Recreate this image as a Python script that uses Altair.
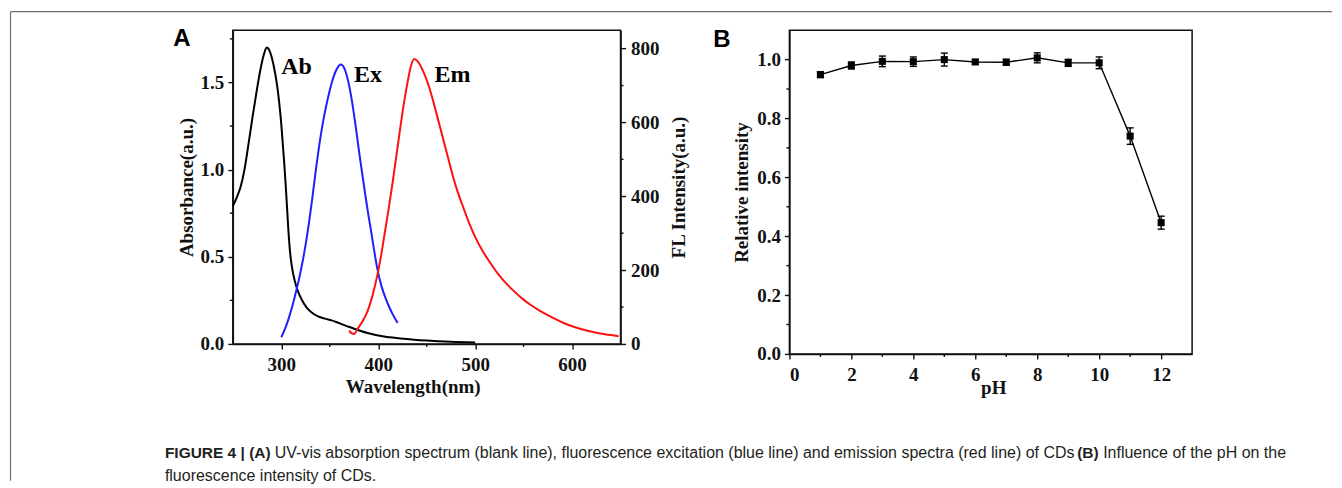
import altair as alt
import pandas as pd

# ---------------- Panel A data ----------------
abs_wl = [250, 254, 258, 262, 266, 270, 274, 278, 282, 285, 288, 292, 296, 300, 303, 305, 307, 309, 311, 314,
          317, 321, 326, 331, 338, 345, 352, 358, 365, 374, 382, 390, 400, 412, 423, 437, 450, 475, 500]
abs_val = [0.79, 0.84, 0.90, 1.00, 1.14, 1.29, 1.43, 1.56, 1.66, 1.70, 1.68, 1.60, 1.47, 1.26, 1.04, 0.87, 0.68,
           0.53, 0.44, 0.36, 0.305, 0.255, 0.21, 0.182, 0.158, 0.145, 0.135, 0.123, 0.108, 0.09, 0.074, 0.061,
           0.048, 0.038, 0.031, 0.024, 0.019, 0.012, 0.008]
ex_wl = [300, 304, 308, 312, 316, 320, 324, 328, 332, 336, 340, 344, 348, 352, 356, 359, 361, 363, 366, 369,
         372, 375, 378, 381, 384, 387, 390, 393, 396, 399, 403, 407, 411, 415, 420]
ex_val = [18, 42, 72, 108, 150, 197, 252, 318, 395, 478, 553, 615, 665, 707, 738, 752, 757, 755, 740, 712,
          672, 622, 565, 507, 452, 398, 347, 300, 250, 205, 160, 128, 102, 80, 57]
em_wl = [370, 372, 375, 379, 384, 389, 394, 399, 403, 407, 411, 415, 419, 423, 427, 430, 433, 437, 441, 447,
         452, 457, 462, 467, 472, 477, 482, 488, 494, 500, 507, 515, 523, 532, 540, 549, 557, 566, 575, 583,
         592, 600, 617, 634, 648]
em_val = [36, 30, 27, 42, 62, 89, 130, 185, 240, 305, 370, 440, 515, 590, 660, 705, 745, 772, 765, 735,
          700, 655, 605, 555, 505, 455, 412, 368, 326, 290, 255, 222, 192, 164, 143, 122, 106, 91, 78, 67,
          56, 48, 35, 26, 21]
spec_labels = ["Ab", "Ex", "Em"]
spec_label_wl = [300, 375, 458]
spec_label_abs = [1.59, 1.54, 1.54]
wl_ticks = [300, 400, 500, 600]
wl_minor = [350, 450, 550]
abs_ticks = [0.0, 0.5, 1.0, 1.5]
abs_minor = [0.25, 0.75, 1.25, 1.75]
fl_ticks = [0, 200, 400, 600, 800]
fl_minor = [100, 300, 500, 700]

# ---------------- Panel B data ----------------
ph = [1, 2, 3, 4, 5, 6, 7, 8, 9, 10, 11, 12]
rel = [0.949, 0.98, 0.994, 0.993, 1.0, 0.992, 0.991, 1.006, 0.989, 0.989, 0.740, 0.446]
err = [0.01, 0.012, 0.018, 0.016, 0.022, 0.008, 0.01, 0.017, 0.012, 0.02, 0.028, 0.022]
ph_ticks = [0, 2, 4, 6, 8, 10, 12]
ph_minor = [1, 3, 5, 7, 9, 11]
rel_ticks = [0.0, 0.2, 0.4, 0.6, 0.8, 1.0]
rel_minor = [0.1, 0.3, 0.5, 0.7, 0.9]

# ---------------- Caption ----------------
cap1_bold_a = "FIGURE 4 | (A)"
cap1_text_a = ("UV-vis absorption spectrum (blank line), fluorescence excitation (blue line) and "
               "emission spectra (red line) of CDs")
cap1_bold_b = "(B)"
cap1_text_b = "Influence of the pH on the"
cap2_text = "fluorescence intensity of CDs."

SERIF = "Liberation Serif"
SANS = "Liberation Sans"
CAPFONT = "Liberation Sans"
INK = "#111111"
CAPCOL = "#231f20"
FRAME = "#6e6e6e"

# ================= Panel A =================
WA, HA = 388, 314
x_axis_A = alt.Axis(values=wl_ticks, title="Wavelength(nm)", labelPadding=7, format="d",
                    titleX=180, titleY=34, titleBaseline="top")
wlx = alt.X("wl:Q", scale=alt.Scale(domain=[250, 650], nice=False, zero=False), axis=x_axis_A)
left_axis = alt.Axis(values=abs_ticks, format=".1f", title="Absorbance(a.u.)", orient="left",
                     labelPadding=4, titlePadding=4)
yL = alt.Y("abs:Q", scale=alt.Scale(domain=[0, 1.8], nice=False), axis=left_axis)
right_axis = alt.Axis(values=fl_ticks, format="d", title="FL Intensity(a.u.)", orient="right",
                      labelPadding=5, titlePadding=11, titleAngle=270, titleBaseline="top")
yR = alt.Y("fl:Q", scale=alt.Scale(domain=[0, 850], nice=False), axis=right_axis)

abs_df = pd.DataFrame({"wl": abs_wl, "abs": abs_val})
ex_df = pd.DataFrame({"wl": ex_wl, "fl": ex_val})
em_df = pd.DataFrame({"wl": em_wl, "fl": em_val})
lab_df = pd.DataFrame({"wl": spec_label_wl, "abs": spec_label_abs, "label": spec_labels})
one = pd.DataFrame({"d": [0]})

abs_line = alt.Chart(abs_df).mark_line(color="#000000", strokeWidth=2, interpolate="monotone").encode(x=wlx, y=yL)
lab_text = alt.Chart(lab_df).mark_text(font=SERIF, fontSize=24, fontWeight="bold", align="left",
                                       baseline="middle", color="#000000").encode(x=wlx, y=yL, text="label:N")
minor_xA = alt.Chart(pd.DataFrame({"wl": wl_minor})).mark_rule(color=INK, strokeWidth=1.4).encode(
    x=wlx, y=alt.value(HA), y2=alt.value(HA + 3))
minor_L = alt.Chart(pd.DataFrame({"abs": abs_minor})).mark_rule(color=INK, strokeWidth=1.4).encode(
    y=yL, x=alt.value(0), x2=alt.value(-3))

frame_top = alt.Chart(one).mark_rule(color=FRAME, strokeWidth=1.2).encode(
    x=alt.value(-222.5), x2=alt.value(1100), y=alt.value(-18.5))
frame_left = alt.Chart(one).mark_rule(color=FRAME, strokeWidth=1.2).encode(
    x=alt.value(-222.5), y=alt.value(-18.5), y2=alt.value(451))
label_A = alt.Chart(one).mark_text(text="A", font=SANS, fontSize=24, fontWeight="bold", align="center",
                                   baseline="middle", color="#000000").encode(x=alt.value(-51), y=alt.value(9))

def cap(txt, x, y, bold):
    return alt.Chart(one).mark_text(text=txt, font=CAPFONT, fontSize=15.5 if bold else 16,
                                    fontWeight="bold" if bold else "normal",
                                    align="left", baseline="middle", color=CAPCOL).encode(
        x=alt.value(x), y=alt.value(y))

caps = [
    cap(cap1_bold_a, -68, 423, True),
    cap(cap1_text_a, 42, 423, False),
    cap(cap1_bold_b, 845, 423, True),
    cap(cap1_text_b, 871, 423, False),
    cap(cap2_text, -68, 446, False),
]

ex_line = alt.Chart(ex_df).mark_line(color="#1f1fff", strokeWidth=2, interpolate="monotone").encode(x=wlx, y=yR)
em_line = alt.Chart(em_df).mark_line(color="#ff1010", strokeWidth=2, interpolate="monotone").encode(x=wlx, y=yR)
minor_R = alt.Chart(pd.DataFrame({"fl": fl_minor})).mark_rule(color=INK, strokeWidth=1.4).encode(
    y=yR, x=alt.value(WA), x2=alt.value(WA + 3))

left_group = alt.layer(abs_line, lab_text, minor_xA, minor_L, frame_top, frame_left, label_A, *caps)
right_group = alt.layer(ex_line, em_line, minor_R)
panelA = alt.layer(left_group, right_group).resolve_scale(y="independent").properties(width=WA, height=HA)

# ================= Panel B =================
WB, HB = 403, 324
x_axis_B = alt.Axis(values=ph_ticks, format="d", title="pH", labelPadding=7,
                    titleX=204, titleY=25, titleBaseline="top")
xB = alt.X("ph:Q", scale=alt.Scale(domain=[0, 13], nice=False), axis=x_axis_B)
y_axis_B = alt.Axis(values=rel_ticks, format=".1f", title="Relative intensity", labelPadding=4, titlePadding=5)
ysc = alt.Scale(domain=[0, 1.1], nice=False)

b_df = pd.DataFrame({"ph": ph, "rel": rel,
                     "lo": [r - e for r, e in zip(rel, err)],
                     "hi": [r + e for r, e in zip(rel, err)]})

lineB = alt.Chart(b_df).mark_line(color="#000000", strokeWidth=1.4).encode(
    x=xB, y=alt.Y("rel:Q", scale=ysc, axis=y_axis_B))
errB = alt.Chart(b_df).mark_rule(color="#000000", strokeWidth=1.4).encode(
    x=xB, y=alt.Y("lo:Q", scale=ysc, axis=y_axis_B), y2="hi:Q")
capLo = alt.Chart(b_df).mark_rule(color="#000000", strokeWidth=1.4, xOffset=-3.5, x2Offset=3.5).encode(
    x=xB, x2="ph:Q", y=alt.Y("lo:Q", scale=ysc, axis=y_axis_B))
capHi = alt.Chart(b_df).mark_rule(color="#000000", strokeWidth=1.4, xOffset=-3.5, x2Offset=3.5).encode(
    x=xB, x2="ph:Q", y=alt.Y("hi:Q", scale=ysc, axis=y_axis_B))
ptsB = alt.Chart(b_df).mark_square(size=50, color="#000000", opacity=1).encode(
    x=xB, y=alt.Y("rel:Q", scale=ysc, axis=y_axis_B))
minor_xB = alt.Chart(pd.DataFrame({"ph": ph_minor})).mark_rule(color=INK, strokeWidth=1.4).encode(
    x=xB, y=alt.value(HB), y2=alt.value(HB + 3))
minor_yB = alt.Chart(pd.DataFrame({"rel": rel_minor})).mark_rule(color=INK, strokeWidth=1.4).encode(
    y=alt.Y("rel:Q", scale=ysc, axis=y_axis_B), x=alt.value(0), x2=alt.value(-3))
label_B = alt.Chart(one).mark_text(text="B", font=SANS, fontSize=24, fontWeight="bold", align="center",
                                   baseline="middle", color="#000000").encode(x=alt.value(-67.5), y=alt.value(10))

panelB = alt.layer(lineB, errB, capLo, capHi, ptsB, minor_xB, minor_yB, label_B).properties(width=WB, height=HB)

chart = alt.hconcat(panelA, panelB, spacing=169, bounds="flush").properties(
    padding={"left": 1, "top": 2, "right": 0, "bottom": 0},
    background="white",
).configure_view(
    stroke=INK, strokeWidth=1.5
).configure_axis(
    grid=False, domainColor=INK, domainWidth=1.5, tickColor=INK, tickWidth=1.4, tickSize=5,
    labelFont=SERIF, labelFontSize=19, labelFontWeight="bold", labelColor=INK,
    titleFont=SERIF, titleFontSize=19, titleFontWeight="bold", titleColor=INK,
)

chart.save("out.html", embed_options={"renderer": "svg", "actions": False})
